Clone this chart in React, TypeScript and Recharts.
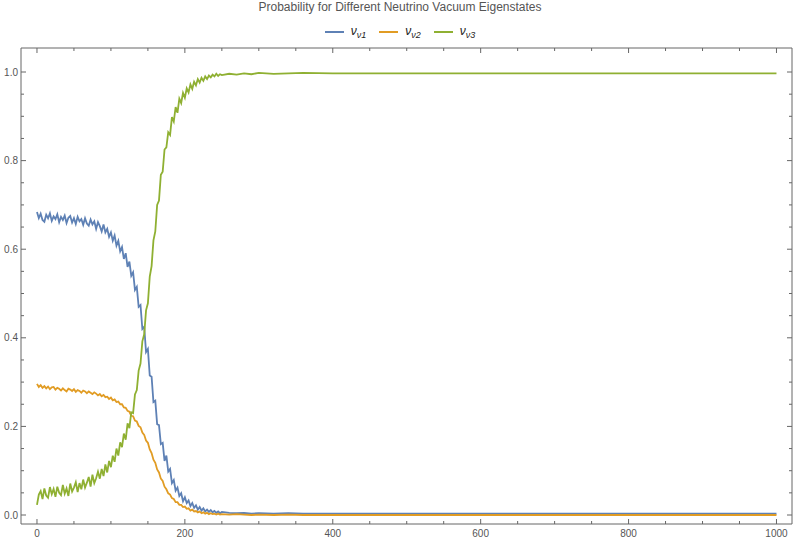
import { LineChart, Line, XAxis, YAxis } from 'recharts';

// sample positions along the propagation axis
const steps = [
  0, 2.5, 5, 7.5, 10, 12.5, 15, 17.5, 20, 22.5,
  25, 27.5, 30, 32.5, 35, 37.5, 40, 42.5, 45, 47.5,
  50, 52.5, 55, 57.5, 60, 62.5, 65, 67.5, 70, 72.5,
  75, 77.5, 80, 82.5, 85, 87.5, 90, 92.5, 95, 97.5,
  100, 102.5, 105, 107.5, 110, 112.5, 115, 117.5, 120, 122.5,
  125, 127.5, 130, 132.5, 135, 137.5, 140, 142.5, 145, 147.5,
  150, 152.5, 155, 157.5, 160, 162.5, 165, 167.5, 170, 172.5,
  175, 177.5, 180, 182.5, 185, 187.5, 190, 192.5, 195, 197.5,
  200, 202.5, 205, 207.5, 210, 212.5, 215, 217.5, 220, 222.5,
  225, 227.5, 230, 232.5, 235, 237.5, 240, 242.5, 245, 247.5,
  250,
  260, 270, 280, 290, 300, 320, 340, 360,
  400, 450, 500, 550, 600, 650, 700, 750, 800, 850, 900, 950, 1000,
];

const nu1 = [
  0.684, 0.670, 0.680, 0.666, 0.662, 0.678, 0.670, 0.681, 0.664, 0.674,
  0.668, 0.679, 0.661, 0.673, 0.666, 0.676, 0.659, 0.671, 0.675, 0.660,
  0.670, 0.657, 0.673, 0.663, 0.668, 0.655, 0.670, 0.658, 0.653, 0.667,
  0.656, 0.663, 0.646, 0.661, 0.652, 0.640, 0.656, 0.638, 0.646, 0.628,
  0.638, 0.619, 0.631, 0.608, 0.619, 0.595, 0.605, 0.578, 0.591, 0.560,
  0.572, 0.540, 0.548, 0.508, 0.515, 0.470, 0.474, 0.420, 0.425, 0.368,
  0.375, 0.315, 0.312, 0.255, 0.258, 0.205, 0.203, 0.160, 0.163, 0.122,
  0.134, 0.098, 0.104, 0.072, 0.079, 0.055, 0.062, 0.043, 0.049, 0.031,
  0.040, 0.027, 0.033, 0.020, 0.027, 0.016, 0.022, 0.012, 0.018, 0.010,
  0.015, 0.008, 0.012, 0.007, 0.011, 0.006, 0.009, 0.005, 0.008, 0.004,
  0.007,
  0.005, 0.004, 0.005, 0.003, 0.004, 0.003, 0.004, 0.003,
  0.003, 0.003, 0.003, 0.003, 0.003, 0.003, 0.003, 0.003, 0.003, 0.003, 0.003, 0.003, 0.003,
];

const nu2 = [
  0.296, 0.289, 0.293, 0.287, 0.291, 0.286, 0.290, 0.284, 0.288, 0.289,
  0.283, 0.287, 0.285, 0.281, 0.286, 0.282, 0.279, 0.285, 0.283, 0.280,
  0.284, 0.278, 0.282, 0.280, 0.276, 0.281, 0.279, 0.275, 0.279, 0.276,
  0.273, 0.277, 0.274, 0.270, 0.273, 0.268, 0.271, 0.266, 0.267, 0.262,
  0.265, 0.259, 0.261, 0.255, 0.256, 0.250, 0.250, 0.243, 0.242, 0.235,
  0.233, 0.224, 0.223, 0.213, 0.211, 0.201, 0.198, 0.186, 0.181, 0.168,
  0.163, 0.148, 0.140, 0.125, 0.118, 0.103, 0.096, 0.082, 0.077, 0.064,
  0.058, 0.049, 0.046, 0.038, 0.036, 0.029, 0.029, 0.023, 0.023, 0.018,
  0.019, 0.014, 0.015, 0.010, 0.012, 0.008, 0.009, 0.006, 0.008, 0.004,
  0.006, 0.003, 0.005, 0.002, 0.004, 0.002, 0.003, 0.001, 0.003, 0.001,
  0.002,
  0.001, 0.002, 0.001, 0.000, 0.001, 0.000, 0.001, 0.000,
  0.000, 0.000, 0.000, 0.000, 0.000, 0.000, 0.000, 0.000, 0.000, 0.000, 0.000, 0.000, 0.000,
];

const nu3 = [
  0.023, 0.046, 0.054, 0.036, 0.060, 0.044, 0.039, 0.063, 0.047, 0.059,
  0.041, 0.064, 0.050, 0.045, 0.068, 0.048, 0.060, 0.043, 0.071, 0.053,
  0.062, 0.074, 0.052, 0.072, 0.058, 0.080, 0.062, 0.073, 0.086, 0.064,
  0.091, 0.072, 0.083, 0.098, 0.082, 0.104, 0.088, 0.114, 0.096, 0.122,
  0.108, 0.134, 0.120, 0.150, 0.134, 0.164, 0.153, 0.184, 0.170, 0.207,
  0.196, 0.232, 0.230, 0.272, 0.282, 0.326, 0.342, 0.392, 0.408, 0.462,
  0.478, 0.538, 0.562, 0.620, 0.640, 0.700, 0.710, 0.768, 0.775, 0.825,
  0.830, 0.864, 0.858, 0.898, 0.888, 0.921, 0.908, 0.940, 0.930, 0.953,
  0.942, 0.963, 0.954, 0.972, 0.962, 0.978, 0.970, 0.984, 0.976, 0.987,
  0.980, 0.990, 0.984, 0.992, 0.988, 0.994, 0.990, 0.996, 0.991, 0.995,
  0.993,
  0.996, 0.994, 0.997, 0.995, 0.998, 0.996, 0.997, 0.998,
  0.997, 0.997, 0.997, 0.997, 0.997, 0.997, 0.997, 0.997, 0.997, 0.997, 0.997, 0.997, 0.997,
];

const xTicks = [0, 50, 100, 150, 200, 250, 300, 350, 400, 450, 500, 550, 600, 650, 700, 750, 800, 850, 900, 950, 1000];
const yTicks = [0, 0.05, 0.1, 0.15, 0.2, 0.25, 0.3, 0.35, 0.4, 0.45, 0.5, 0.55, 0.6, 0.65, 0.7, 0.75, 0.8, 0.85, 0.9, 0.95, 1];

const seriesNames = ['ν1', 'ν2', 'ν3'];
const seriesKeys = ['v1', 'v2', 'v3'];
const colors = ['#5e81b5', '#e19c24', '#8fb032'];

const data = steps.map((x, i) => ({ x, v1: nu1[i], v2: nu2[i], v3: nu3[i] }));

const FRAME = '#666';
const LABEL = '#555';
const FONT = '"Liberation Sans", Arial, sans-serif';

const isMajorX = (v: number) => v % 200 === 0;
const isMajorY = (v: number) => Math.abs(v * 5 - Math.round(v * 5)) < 1e-6;

const BottomTick = (props: any) => {
  const { x, y, payload } = props;
  const major = isMajorX(payload.value);
  return (
    <g>
      <line x1={x} x2={x} y1={y} y2={y - (major ? 5 : 3)} stroke={FRAME} />
      {major && (
        <text x={x} y={y + 13} textAnchor="middle" fontSize={10} fill={LABEL} fontFamily={FONT}>
          {payload.value}
        </text>
      )}
    </g>
  );
};

const TopTick = (props: any) => {
  const { x, y, payload } = props;
  const major = isMajorX(payload.value);
  return <line x1={x} x2={x} y1={y} y2={y + (major ? 5 : 3)} stroke={FRAME} />;
};

const LeftTick = (props: any) => {
  const { x, y, payload } = props;
  const major = isMajorY(payload.value);
  return (
    <g>
      <line x1={x} x2={x + (major ? 5 : 3)} y1={y} y2={y} stroke={FRAME} />
      {major && (
        <text x={x - 3} y={y} dy="0.35em" textAnchor="end" fontSize={10} fill={LABEL} fontFamily={FONT}>
          {payload.value.toFixed(1)}
        </text>
      )}
    </g>
  );
};

const RightTick = (props: any) => {
  const { x, y, payload } = props;
  const major = isMajorY(payload.value);
  return <line x1={x} x2={x - (major ? 5 : 3)} y1={y} y2={y} stroke={FRAME} />;
};

export default function App() {
  return (
    <div style={{ position: 'absolute', left: 0, top: 0, width: 800, height: 543, fontFamily: FONT }}>
      <div
        style={{
          position: 'absolute',
          top: 0,
          left: 0,
          width: 800,
          textAlign: 'center',
          fontSize: 12,
          lineHeight: '14px',
          color: '#555',
        }}
      >
        Probability for Different Neutrino Vacuum Eigenstates
      </div>
      <div
        style={{
          position: 'absolute',
          top: 23,
          left: 0,
          width: 800,
          display: 'flex',
          justifyContent: 'center',
          gap: 13,
          fontSize: 12,
          color: '#222',
        }}
      >
        {seriesNames.map((name, i) => (
          <div key={name} style={{ display: 'flex', alignItems: 'center', height: 18 }}>
            <span style={{ display: 'inline-block', width: 19, height: 2, background: colors[i], marginRight: 7 }} />
            <span style={{ fontStyle: 'italic' }}>
              ν<sub style={{ fontSize: 9 }}>{name}</sub>
            </span>
          </div>
        ))}
      </div>
      <LineChart width={800} height={543} data={data} margin={{ top: 47, right: 0, bottom: 0, left: 0 }}>
        <XAxis
          xAxisId="b"
          dataKey="x"
          type="number"
          domain={[-21.6, 1021]}
          allowDataOverflow
          ticks={xTicks}
          interval={0}
          height={19}
          tickSize={0}
          tickMargin={0}
          tickLine={false}
          axisLine={{ stroke: FRAME }}
          tick={<BottomTick />}
        />
        <XAxis
          xAxisId="t"
          dataKey="x"
          type="number"
          orientation="top"
          domain={[-21.6, 1021]}
          allowDataOverflow
          ticks={xTicks}
          interval={0}
          height={1}
          tickSize={0}
          tickMargin={0}
          tickLine={false}
          axisLine={{ stroke: FRAME }}
          tick={<TopTick />}
        />
        <YAxis
          yAxisId="l"
          type="number"
          domain={[-0.0203, 1.0542]}
          allowDataOverflow
          ticks={yTicks}
          interval={0}
          width={21}
          tickSize={0}
          tickMargin={0}
          tickLine={false}
          axisLine={{ stroke: FRAME }}
          tick={<LeftTick />}
        />
        <YAxis
          yAxisId="r"
          orientation="right"
          type="number"
          domain={[-0.0203, 1.0542]}
          allowDataOverflow
          ticks={yTicks}
          interval={0}
          width={8}
          tickSize={0}
          tickMargin={0}
          tickLine={false}
          axisLine={{ stroke: FRAME }}
          tick={<RightTick />}
        />
        {seriesKeys.map((k, i) => (
          <Line
            key={k}
            xAxisId="b"
            yAxisId="l"
            type="linear"
            dataKey={k}
            name={seriesNames[i]}
            stroke={colors[i]}
            strokeWidth={1.8}
            dot={false}
            isAnimationActive={false}
          />
        ))}
      </LineChart>
    </div>
  );
}
